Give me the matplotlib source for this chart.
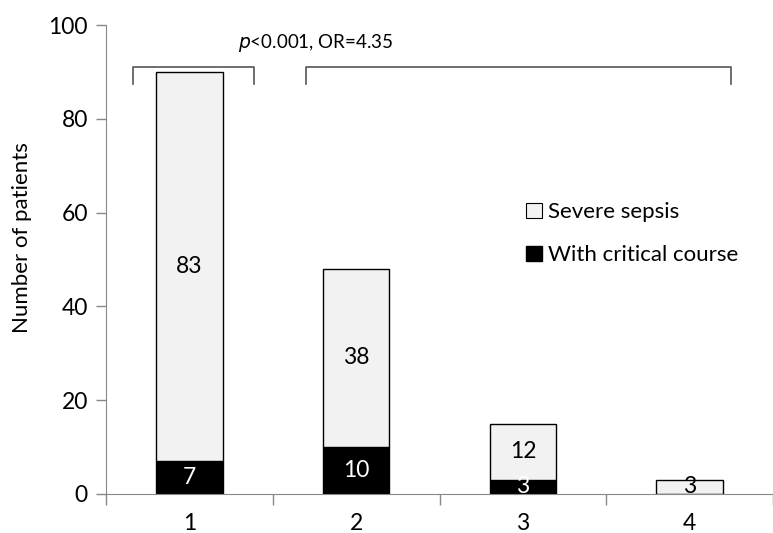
import matplotlib
matplotlib.use("Agg")
import matplotlib.pyplot as plt
import numpy as np
from matplotlib.patches import Patch

plt.rcParams['font.family'] = ['Lato', 'DejaVu Sans']

categories = ['1', '2', '3', '4']
critical = [7, 10, 3, 0]
severe = [83, 38, 12, 3]
legend_labels = ['Severe sepsis', 'With critical course']
annotation = r'$\it{p}$<0.001, OR=4.35'

fig = plt.figure(figsize=(7.73, 5.33), dpi=100)
ax = fig.add_axes([106/773, 1-494/533, 1-106/773, 469/533])

x = np.arange(len(categories))
w = 0.4
gray = '#f2f2f2'
ax.bar(x, critical, w, color='black', edgecolor='black', linewidth=1)
ax.bar(x, severe, w, bottom=critical, color=gray, edgecolor='black', linewidth=1)

fs = 16.5
for i in range(len(categories)):
    if critical[i] > 0:
        ax.text(x[i], critical[i]/2, str(critical[i]), ha='center', va='center',
                color='white', fontsize=fs)
    ax.text(x[i], critical[i] + severe[i]/2, str(severe[i]), ha='center', va='center',
            color='black', fontsize=fs)

ax.set_xlim(-0.5, 3.47)
ax.set_ylim(0, 100)
ax.set_yticks([0, 20, 40, 60, 80, 100])
ax.set_xticks(x)
ax.set_xticklabels(categories)
ax.set_xticks(np.arange(-0.5, 4, 1), minor=True)
ax.tick_params(axis='x', which='major', length=0, labelsize=fs, pad=14)
ax.tick_params(axis='x', which='minor', length=8, direction='out', color='#888888', width=1)
ax.tick_params(axis='y', length=7, direction='out', color='#888888', width=1, labelsize=fs, pad=6)
for s in ['top', 'right']:
    ax.spines[s].set_visible(False)
for s in ['left', 'bottom']:
    ax.spines[s].set_color('#888888')
ax.set_ylabel('Number of patients', fontsize=16)
ax.yaxis.set_label_coords(-0.111, 0.546)

# brackets
bc = '#555555'
ax.plot([-0.34, -0.34, 0.39, 0.39], [87.4, 91, 91, 87.4], color=bc, lw=1.2, clip_on=False)
ax.plot([0.7, 0.7, 3.25, 3.25], [87.4, 91, 91, 87.4], color=bc, lw=1.2, clip_on=False)
ax.text(0.76, 96.2, annotation, ha='center', va='center', fontsize=13.5)

handles = [Patch(facecolor=gray, edgecolor='black', linewidth=0.8),
           Patch(facecolor='black', edgecolor='black')]
ax.legend(handles, legend_labels, loc='upper left', bbox_to_anchor=(0.6, 0.665),
          frameon=False, fontsize=16, handlelength=0.7, handleheight=0.7,
          handletextpad=0.3, labelspacing=1.05)

fig.savefig('out.png', dpi=100)
